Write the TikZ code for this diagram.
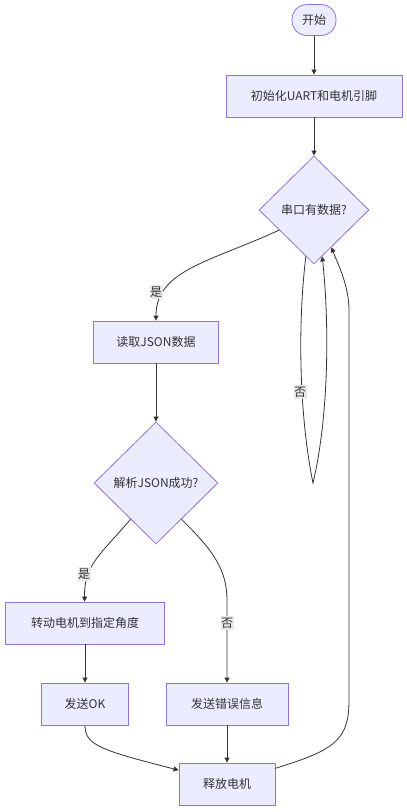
\documentclass[tikz,border=0pt]{standalone}
\usepackage{fontspec}
\newfontfamily\cjk{Noto Sans CJK SC}
\usepackage{xcolor}
\usepackage{tikz}
\usetikzlibrary{arrows.meta,shapes.geometric}
\definecolor{boxfill}{HTML}{ECECFF}
\definecolor{boxline}{HTML}{9370DB}
\definecolor{edgeline}{HTML}{333333}
\definecolor{labelbg}{HTML}{E8E8E8}

\begin{document}
\begin{tikzpicture}[x=1pt,y=-1pt,
    every node/.style={font=\cjk\fontsize{12}{14}\selectfont, text=edgeline},
    proc/.style={draw=boxline, fill=boxfill, line width=0.8pt, minimum height=42pt},
    startbox/.style={proc, rounded corners=15pt, minimum height=31pt, minimum width=44pt},
    decision/.style={diamond, aspect=1, draw=boxline, fill=boxfill, line width=0.8pt, inner sep=0pt},
    flow/.style={draw=edgeline, line width=0.8pt, -{Triangle[length=5pt,width=5pt]}},
    edgelabel/.style={fill=labelbg, inner xsep=0.5pt, inner ysep=2pt}]
    \useasboundingbox (0,0) rectangle (407,812);

    % Nodes
    \node[startbox] (start) at (314,20) {开始};
    \node[proc, minimum width=176pt] (init) at (314,96) {初始化UART和电机引脚};
    \node[decision, minimum width=110pt, minimum height=108pt] (hasdata) at (314,210) {串口有数据?};
    \node[proc, minimum width=125pt] (readjson) at (156,342) {读取JSON数据};
    \node[decision, minimum width=124pt, minimum height=122pt] (parseok) at (156,483) {解析JSON成功?};
    \node[proc, minimum width=159pt] (rotate) at (85,623) {转动电机到指定角度};
    \node[proc, minimum width=87pt] (sendok) at (85,704) {发送OK};
    \node[proc, minimum width=122pt] (senderr) at (227,704) {发送错误信息};
    \node[proc, minimum width=96pt] (release) at (227,784) {释放电机};
    \coordinate (loopturn) at (313,483);

    % Straight edges
    \draw[flow] (start) -- (init);
    \draw[flow] (init) -- (hasdata);
    \draw[flow] (readjson) -- (parseok);
    \draw[flow] (rotate) -- (sendok);
    \draw[flow] (senderr) -- (release);

    % Curved edges
    \draw[flow] (hasdata.210) .. controls (210,262) and (156,270) .. (readjson);
    \draw[flow] (hasdata.-100) .. controls (297,330) and (300,420) .. (loopturn)
        .. controls (328,420) and (330,330) .. (hasdata.-80);
    \draw[flow] (parseok.235) .. controls (100,555) and (84,565) .. (rotate);
    \draw[flow] (parseok.305) .. controls (213,550) and (227,570) .. (227,600) -- (senderr);
    \draw[flow] (sendok.south) .. controls (85,745) and (100,750) .. (release.164);
    \draw[flow] (release.18) .. controls (335,750) and (349,740) .. (349,700)
        -- (349,310) .. controls (349,285) and (337,262) .. (hasdata.-65);

    % Edge labels
    \node[edgelabel] (yesdata) at (156,292) {是};
    \node[edgelabel] (nodata) at (300,392) {否};
    \node[edgelabel] (yesparse) at (84,574) {是};
    \node[edgelabel] (noparse) at (227,623) {否};

\end{tikzpicture}
\end{document}
